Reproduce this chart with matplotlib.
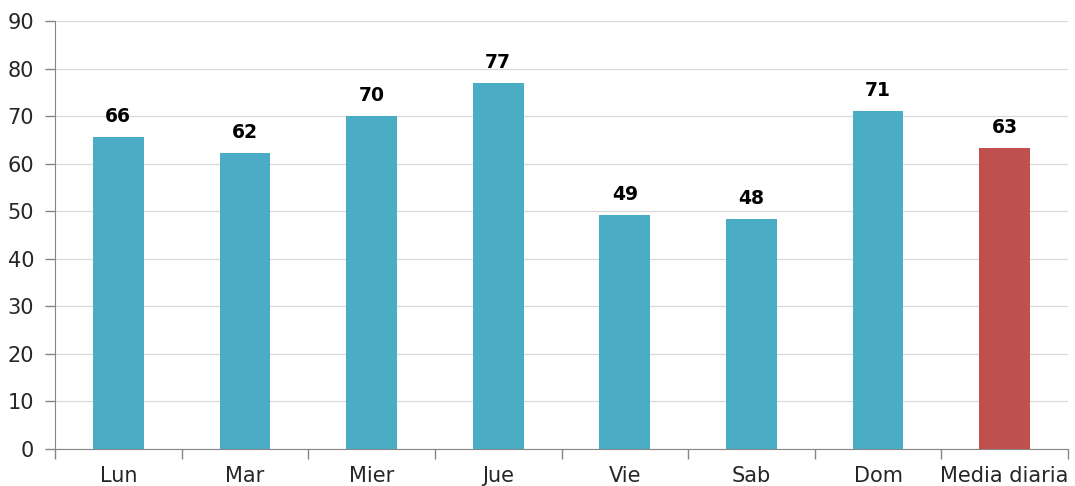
import matplotlib.pyplot as plt
import numpy as np

categories = ['Lun', 'Mar', 'Mier', 'Jue', 'Vie', 'Sab', 'Dom', 'Media diaria']
values = [65.6, 62.2, 70.0, 77.0, 49.2, 48.3, 71.1, 63.3]
bar_colors = ['#4BACC6'] * 7 + ['#C0504D']
y_ticks = [0, 10, 20, 30, 40, 50, 60, 70, 80, 90]

plt.rcParams['font.family'] = ['DejaVu Sans']

fig = plt.figure(figsize=(10.75, 4.86), dpi=100)
ax = fig.add_axes([55/1075, 1-449/486, (1068-55)/1075, (449-21)/486])

x = np.arange(len(categories))
ax.bar(x, values, width=0.4, color=bar_colors, zorder=3)

for xi, v in zip(x, values):
    ax.annotate('%d' % round(v), xy=(xi, v), xytext=(0, 8), textcoords='offset points',
                ha='center', va='bottom', fontsize=13.5, fontweight='bold', color='black')

ax.set_xlim(-0.5, len(categories) - 0.5)
ax.set_ylim(0, 90)
ax.set_yticks(y_ticks)
ax.set_yticklabels([str(t) for t in y_ticks], fontsize=15, color='#262626')
ax.yaxis.grid(True, color='#D9D9D9', linewidth=0.9, zorder=0)

ax.set_xticks(x)
ax.set_xticklabels(categories, fontsize=15, color='#262626')
ax.set_xticks(np.arange(-0.5, len(categories)), minor=True)
ax.tick_params(axis='x', which='major', length=0, pad=12)
ax.tick_params(axis='x', which='minor', length=7, color='#868686', width=1)
ax.tick_params(axis='y', length=7, color='#868686', width=1, pad=8)

for s in ['top', 'right']:
    ax.spines[s].set_visible(False)
ax.spines['left'].set_color('#868686')
ax.spines['bottom'].set_color('#868686')

fig.savefig('out.png', dpi=100)
